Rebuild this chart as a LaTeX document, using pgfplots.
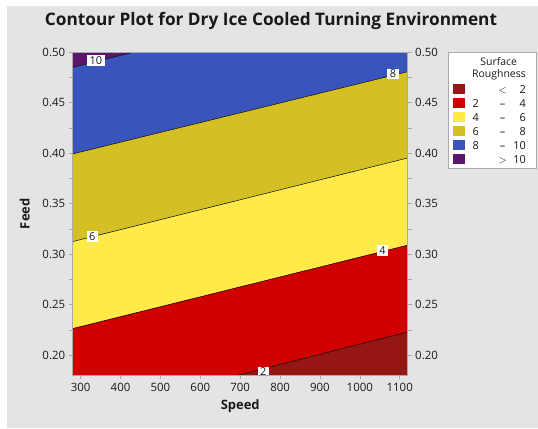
\documentclass[border=0pt]{standalone}
\usepackage{pgfplots}
\pgfplotsset{compat=1.18}
\usepackage{fontspec}
\setmainfont{Open Sans}

\definecolor{panelgray}{RGB}{228,228,228}
\definecolor{framegray}{RGB}{170,170,170}
\definecolor{srA}{RGB}{150,22,22}   % < 2
\definecolor{srB}{RGB}{208,0,0}     % 2 - 4
\definecolor{srC}{RGB}{255,234,72}  % 4 - 6
\definecolor{srD}{RGB}{212,192,36}  % 6 - 8
\definecolor{srE}{RGB}{58,84,190}   % 8 - 10
\definecolor{srF}{RGB}{92,22,110}   % > 10
\definecolor{txt}{RGB}{25,25,25}

\pgfplotsset{
  srbase/.style={
    scale only axis, width=335bp, height=323bp,
    at={(72.7bp,52.7bp)}, anchor=south west,
    xmin=280, xmax=1120, ymin=0.18, ymax=0.50,
    axis line style={framegray, line width=0.6bp},
    tick style={framegray, line width=0.6bp},
    tick align=outside,
    major tick length=4bp, minor tick length=4bp,
    ytick={0.20,0.25,...,0.50},
    minor ytick={0.225,0.275,...,0.475},
    yticklabel style={/pgf/number format/.cd, fixed, fixed zerofill, precision=2},
    xticklabel style={/pgf/number format/.cd, set thousands separator={}},
    /pgf/number format/assume math mode=true,
    ticklabel style={font=\fontsize{11.5}{13}\selectfont, text=txt},
  }
}

\begin{document}
\begin{tikzpicture}[x=1bp,y=1bp]
\useasboundingbox (0,0) rectangle (538,428);
\fill[white] (0,0) rectangle (538,428);
\fill[panelgray] (7,0) rectangle (538,422);

\node[font=\bfseries\fontsize{17.3}{20}\selectfont, text=txt] at (271,407.5) {Contour Plot for Dry Ice Cooled Turning Environment};

\begin{axis}[
  srbase,
  xtick={300,400,...,1100},
  xtick pos=bottom, ytick pos=left,
  xlabel={\bfseries Speed}, ylabel={\bfseries Feed},
  label style={font=\fontsize{13}{15}\selectfont, text=txt},
  xlabel style={yshift=-2bp},
  ylabel style={yshift=6bp},
  axis on top,
]
% filled bands of surface roughness
\addplot[fill=srF, draw=none] coordinates {(280,0.4851) (432,0.50) (280,0.50)} -- cycle;
\addplot[fill=srE, draw=none] coordinates {(280,0.3993) (1120,0.4808) (1120,0.50) (432,0.50) (280,0.4851)} -- cycle;
\addplot[fill=srD, draw=none] coordinates {(280,0.3125) (1120,0.3953) (1120,0.4808) (280,0.3993)} -- cycle;
\addplot[fill=srC, draw=none] coordinates {(280,0.2263) (1120,0.3089) (1120,0.3953) (280,0.3125)} -- cycle;
\addplot[fill=srB, draw=none] coordinates {(280,0.18) (692.6,0.18) (1120,0.2228) (1120,0.3089) (280,0.2263)} -- cycle;
\addplot[fill=srA, draw=none] coordinates {(692.6,0.18) (1120,0.18) (1120,0.2228)} -- cycle;
% contour lines
\addplot[black, line width=0.5bp] coordinates {(280,0.4851) (432,0.50)};
\addplot[black, line width=0.5bp] coordinates {(280,0.3993) (1120,0.4808)};
\addplot[black, line width=0.5bp] coordinates {(280,0.3125) (1120,0.3953)};
\addplot[black, line width=0.5bp] coordinates {(280,0.2263) (1120,0.3089)};
\addplot[black, line width=0.5bp] coordinates {(692.6,0.18) (1120,0.2228)};
% contour level labels
\begin{scope}[every node/.style={fill=white, inner xsep=2.5bp, inner ysep=1.2bp, font=\fontsize{11}{12}\selectfont, text=txt}]
\node at (axis cs:338,0.4917) {10};
\node at (axis cs:1083,0.4785) {8};
\node at (axis cs:329,0.3174) {6};
\node at (axis cs:1057,0.3036) {4};
\node at (axis cs:758,0.1835) {2};
\end{scope}
\end{axis}

\begin{axis}[
  srbase,
  axis x line=none,
  axis y line*=right,
  ytick pos=right,
]
\end{axis}

% legend
\draw[framegray, fill=white, line width=0.6bp] (448.3,259.7) rectangle (536.5,375.3);
\node[font=\fontsize{10.5}{12}\selectfont, text=txt] at (498.7,366.3) {Surface};
\node[font=\fontsize{10.5}{12}\selectfont, text=txt] at (499,353.7) {Roughness};
\begin{scope}[every node/.style={font=\fontsize{11}{12}\selectfont, text=txt, inner sep=0pt}]
\foreach \c/\lo/\sym/\hi/\yy in {srA//$<$/2/338.6, srB/2/--/4/324.6, srC/4/--/6/310.6, srD/6/--/8/296.6, srE/8/--/10/282.7, srF//$>$/10/268.8} {
  \fill[\c] (453,\yy-5) rectangle (465.4,\yy+5);
  \node[anchor=base west] at (472.3,\yy-4) {\lo};
  \node[anchor=base] at (502.7,\yy-4) {\sym};
  \node[anchor=base east] at (526,\yy-4) {\hi};
}
\end{scope}
\end{tikzpicture}
\end{document}
